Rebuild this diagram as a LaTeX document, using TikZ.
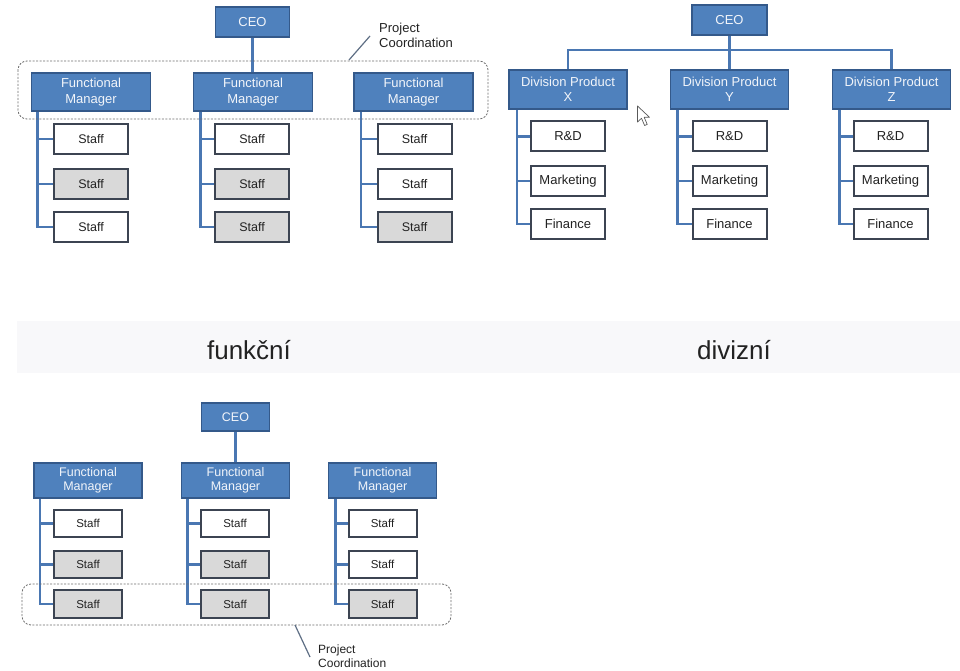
\documentclass[tikz,border=0pt]{standalone}
\usepackage{fontspec}
\setmainfont{Liberation Sans}
\definecolor{boxblue}{HTML}{4F81BD}
\definecolor{bluebdr}{HTML}{34598A}
\definecolor{boxtxt}{HTML}{F2F5FA}
\definecolor{staffbdr}{HTML}{3C4452}
\definecolor{staffgray}{HTML}{D9D9D9}
\definecolor{lineblue}{HTML}{4A77B2}
\definecolor{dashgray}{HTML}{6E6E6E}
\definecolor{leadgray}{HTML}{5F6F85}
\definecolor{txtdark}{HTML}{222222}
\definecolor{bandgray}{HTML}{F8F8FA}
\pgfdeclarelayer{bg}
\pgfdeclarelayer{paper}
\pgfsetlayers{paper,bg,main}
\tikzset{
  bluebox/.style={draw=bluebdr, fill=boxblue, line width=1.8pt, text=boxtxt,
    font=\fontsize{13}{15.5}\selectfont, align=center, inner sep=0pt},
  staffbox/.style={draw=staffbdr, fill=white, line width=2pt, text=txtdark,
    font=\fontsize{12.5}{14}\selectfont, inner sep=0pt},
  gbox/.style={fill=staffgray},
  conn/.style={draw=lineblue, line width=2.4pt},
  dashbox/.style={draw=dashgray, line width=0.8pt, dash pattern=on 2pt off 1.5pt, rounded corners=9pt},
  leader/.style={draw=leadgray, line width=1.2pt},
  pctext/.style={anchor=north west, inner sep=0pt, align=left, text=txtdark},
  biglabel/.style={font=\fontsize{26}{30}\selectfont, text=txtdark, inner sep=0pt}
}
\begin{document}
\begin{tikzpicture}[x=1pt,y=-1pt]
\useasboundingbox (0,0) rectangle (960,671);
\begin{pgfonlayer}{paper}
\fill[white] (0,0) rectangle (960,671);
\fill[bandgray] (17,321) rectangle (960,373);
\end{pgfonlayer}

% ================= top-left: functional with project coordination =================
\draw[dashbox] (18,61) rectangle (488,119);
\node[bluebox, minimum width=74pt, minimum height=30pt] (ceoA) at (252.5,22) {CEO};
\node[bluebox, minimum width=119pt, minimum height=38pt] (fa1) at (91,92) {Functional\\Manager};
\node[bluebox, minimum width=119pt, minimum height=38pt] (fa2) at (253,92) {Functional\\Manager};
\node[bluebox, minimum width=119pt, minimum height=38pt] (fa3) at (413.5,92) {Functional\\Manager};
\tikzset{stop/.style={staffbox, minimum width=74pt, minimum height=30pt}}
\node[stop] (sa11) at (91,139) {Staff};
\node[stop, gbox] (sa12) at (91,184) {Staff};
\node[stop] (sa13) at (91,227) {Staff};
\node[stop] (sa21) at (252,139) {Staff};
\node[stop, gbox] (sa22) at (252,184) {Staff};
\node[stop, gbox] (sa23) at (252,227) {Staff};
\node[stop] (sa31) at (414.5,139) {Staff};
\node[stop] (sa32) at (414.5,184) {Staff};
\node[stop, gbox] (sa33) at (414.5,227) {Staff};
\begin{pgfonlayer}{bg}
\draw[conn] (ceoA.south) -- (ceoA.south |- fa2.north);
\foreach \c/\off in {1/7,2/8,3/8}{
  \draw[conn] ([xshift=\off pt]fa\c.south west) |- (sa\c3.west);
  \draw[conn] ([xshift=\off pt]fa\c.south west |- sa\c1.west) -- (sa\c1.west);
  \draw[conn] ([xshift=\off pt]fa\c.south west |- sa\c2.west) -- (sa\c2.west);
}
\end{pgfonlayer}
\coordinate (la1) at (349,60);
\coordinate (la2) at (370,36);
\draw[leader] (la1) -- (la2);
\node[pctext, font=\fontsize{13}{15}\selectfont] (pcA) at (379,23) {Project\\Coordination};

% ================= top-right: divisional =================
\node[bluebox, minimum width=75pt, minimum height=30pt] (ceoB) at (729.5,20) {CEO};
\node[bluebox, minimum width=118pt, minimum height=39pt] (dx) at (568,89.5) {Division Product\\X};
\node[bluebox, minimum width=118pt, minimum height=39pt] (dy) at (729.5,89.5) {Division Product\\Y};
\node[bluebox, minimum width=118pt, minimum height=39pt] (dz) at (891.5,89.5) {Division Product\\Z};
\coordinate (bus) at (729.5,50);
\tikzset{sdiv/.style={staffbox, font=\fontsize{13}{15}\selectfont, minimum width=74pt, minimum height=30pt}}
\foreach \c/\x in {x/568,y/729.5,z/890.5}{
  \node[sdiv] (\c1) at (\x,136.5) {R\&D};
  \node[sdiv] (\c2) at (\x,181) {Marketing};
  \node[sdiv] (\c3) at (\x,224) {Finance};
}
\begin{pgfonlayer}{bg}
\draw[conn] (ceoB.south) -- (dy.north);
\draw[conn] (dx.north) |- (bus) -| (dz.north);
\foreach \c/\off in {x/9,y/8,z/8}{
  \draw[conn] ([xshift=\off pt]d\c.south west) |- (\c3.west);
  \draw[conn] ([xshift=\off pt]d\c.south west |- \c1.west) -- (\c1.west);
  \draw[conn] ([xshift=\off pt]d\c.south west |- \c2.west) -- (\c2.west);
}
\end{pgfonlayer}
% mouse pointer
\draw[fill=white, draw=gray!70!black, line width=0.7pt, line join=round]
  (637.5,106) -- (637.5,122) -- (641.5,118.3) -- (644.6,125.5) -- (647.2,124.4) -- (644.2,117.3) -- (649.5,117.3) -- cycle;

% ================= labels =================
\node[biglabel] (lf) at (249,350) {funkční};
\node[biglabel] (ld) at (734,350) {divizní};

% ================= bottom: functional with project coordination =================
\node[bluebox, font=\fontsize{12.5}{14}\selectfont, minimum width=68pt, minimum height=28pt] (ceoC) at (235.5,417) {CEO};
\node[bluebox, font=\fontsize{12.5}{14.5}\selectfont, minimum width=108pt, minimum height=35pt] (fc1) at (88,480.5) {Functional\\Manager};
\node[bluebox, font=\fontsize{12.5}{14.5}\selectfont, minimum width=108pt, minimum height=35pt] (fc2) at (235.5,480.5) {Functional\\Manager};
\node[bluebox, font=\fontsize{12.5}{14.5}\selectfont, minimum width=108pt, minimum height=35pt] (fc3) at (382.5,480.5) {Functional\\Manager};
\tikzset{sbot/.style={staffbox, font=\fontsize{11.5}{13}\selectfont, minimum width=68pt, minimum height=27.5pt}}
\node[sbot] (sc11) at (88,523.5) {Staff};
\node[sbot, gbox] (sc12) at (88,564.5) {Staff};
\node[sbot, gbox] (sc13) at (88,604) {Staff};
\node[sbot] (sc21) at (235,523.5) {Staff};
\node[sbot, gbox] (sc22) at (235,564.5) {Staff};
\node[sbot, gbox] (sc23) at (235,604) {Staff};
\node[sbot] (sc31) at (382.5,523.5) {Staff};
\node[sbot] (sc32) at (382.5,564.5) {Staff};
\node[sbot, gbox] (sc33) at (382.5,604) {Staff};
\begin{pgfonlayer}{bg}
\draw[conn] (ceoC.south) -- (ceoC.south |- fc2.north);
\foreach \c/\off in {1/7,2/7,3/8}{
  \draw[conn] ([xshift=\off pt]fc\c.south west) |- (sc\c3.west);
  \draw[conn] ([xshift=\off pt]fc\c.south west |- sc\c1.west) -- (sc\c1.west);
  \draw[conn] ([xshift=\off pt]fc\c.south west |- sc\c2.west) -- (sc\c2.west);
}
\end{pgfonlayer}
\draw[dashbox] (22,584) rectangle (451,625);
\coordinate (lc1) at (295,625);
\coordinate (lc2) at (310,657);
\draw[leader] (lc1) -- (lc2);
\node[pctext, font=\fontsize{12}{14}\selectfont] (pcC) at (318,645) {Project\\Coordination};
\end{tikzpicture}
\end{document}
